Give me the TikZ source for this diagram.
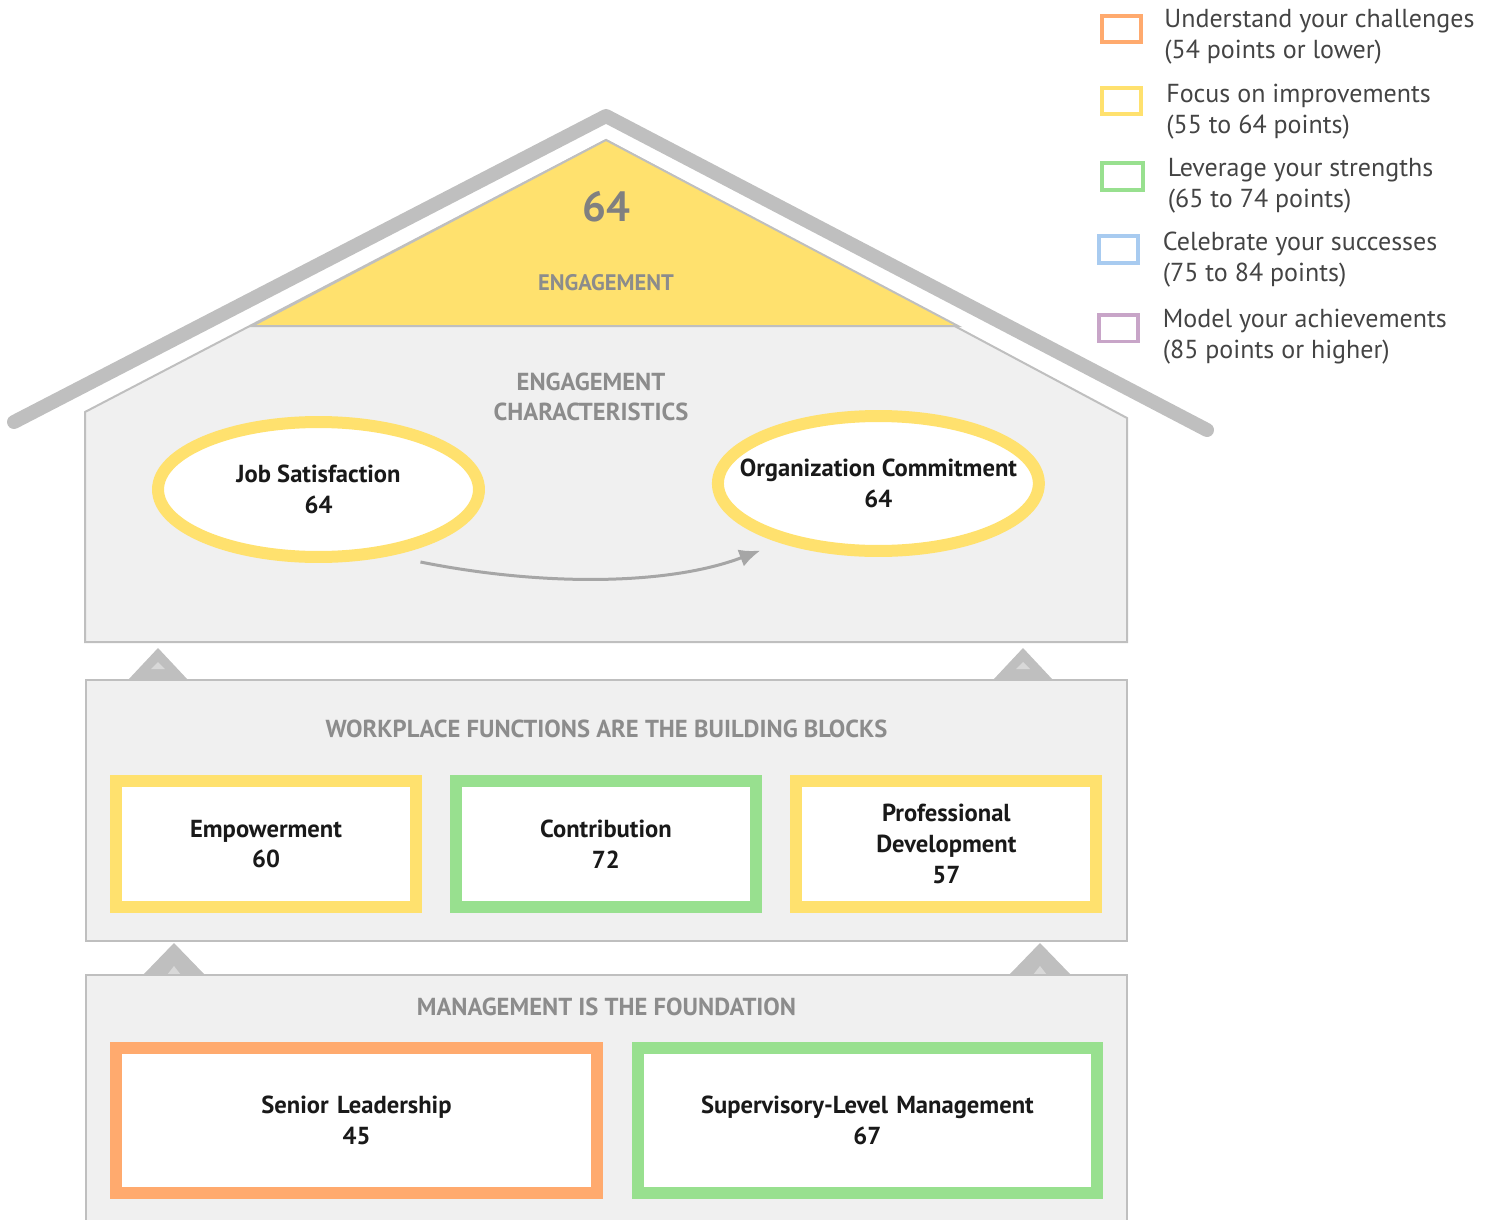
\documentclass[tikz,border=0pt]{standalone}
\usepackage{fontspec}
\setmainfont{PT Sans}
\usepackage{tikz}
\usetikzlibrary{shapes,arrows.meta}
\usetikzlibrary {positioning}
\usetikzlibrary{calc}
\definecolor{color0}{RGB}{255,170,110}
\definecolor{color1}{RGB}{255,225,110}
\definecolor{color2}{RGB}{152,224,143}
\definecolor{color3}{RGB}{168,203,240}
\definecolor{color4}{RGB}{200,165,200}
\definecolor{houseGray}{RGB}{240,240,240}
\definecolor{lineGray}{RGB}{191,191,191}
\definecolor{titleGray}{RGB}{140,140,140}
\definecolor{legendText}{RGB}{68,68,68}
\tikzstyle{scoreBox} = [rectangle, draw, line width=0.24cm, fill=white, text width=5.4cm, align=center, minimum width=6cm, minimum height=2.52cm, inner sep=0pt, font=\bfseries\fontsize{14}{17.5}\selectfont, text=black!90]
\tikzstyle{scoreOval} = [ellipse, draw=color1, line width=0.24cm, fill=white, align=center, minimum width=6.42cm, minimum height=2.7cm, inner xsep=-0.6cm, inner ysep=0pt, font=\bfseries\fontsize{14}{17.5}\selectfont, text=black!90]
\tikzstyle{blockPanel} = [rectangle, draw=lineGray, line width=0.04cm, fill=houseGray, minimum width=20.82cm, inner sep=0pt]
\tikzstyle{blockTitle} = [text=titleGray, font=\bfseries\fontsize{14}{17}\selectfont, align=center]
\tikzstyle{legendBox} = [rectangle, draw, line width=0.08cm, minimum width=0.78cm, minimum height=0.54cm, inner sep=0pt]
\tikzstyle{legendLabel} = [anchor=west, align=left, text=legendText, font=\fontsize{14.8}{17.5}\selectfont, inner sep=0pt]
\tikzstyle{liftTri} = [fill=lineGray]

\begin{document}
\begin{tikzpicture}[x=0.02cm, y=-0.02cm]
	\useasboundingbox (0,0) rectangle (1494,1220);

	% roof and engagement house
	\draw[lineGray, line width=0.28cm, line cap=round, line join=round] (14,422) -- (606,116) -- (1207,430);
	\draw[fill=houseGray, draw=lineGray, line width=0.04cm] (85,642) -- (85,412) -- (606,140) -- (1127,418) -- (1127,642) -- cycle;
	\draw[fill=color1, draw=lineGray, line width=0.04cm] (252,326) -- (606,140) -- (958,326) -- cycle;

	\node[text=black!50, font=\bfseries\fontsize{24}{28}\selectfont](Engagement-Score) at (606,207) {64};
	\node[blockTitle, font=\bfseries\fontsize{12.8}{15}\selectfont]at([yshift=-1.52cm]Engagement-Score.center)(Engagement-Label){ENGAGEMENT};

	\node[blockTitle](Characteristics) at (591,397) {ENGAGEMENT\\CHARACTERISTICS};

	\node[scoreOval](Job-Satisfaction) at (318.5,489.5) {Job Satisfaction\\64};
	\node[scoreOval]at([xshift=11.2cm, yshift=0.12cm]Job-Satisfaction.center)(Org-Commitment){Organization Commitment\\64};

	\draw[black!35, line width=0.06cm, -{Latex[length=0.42cm, width=0.36cm]}] ([xshift=2.04cm, yshift=0.02cm]Job-Satisfaction.south) .. controls (540,586) and (667,586) .. ([xshift=-2.36cm, yshift=-1.34cm]Org-Commitment.center);

	% lifting arrows
	\fill[liftTri] (128,680) -- (158,648) -- (188,680) -- cycle;
	\fill[lineGray!60] (151,669) -- (158,662) -- (165,669) -- cycle;
	\fill[liftTri] (993,680) -- (1023,648) -- (1053,680) -- cycle;
	\fill[lineGray!60] (1016,669) -- (1023,662) -- (1030,669) -- cycle;

	% workplace functions
	\node[blockPanel, minimum height=5.22cm](Functions-Block) at (606.5,810.5) {};
	\node[blockTitle]at([yshift=-1cm]Functions-Block.north)(Functions-Title){WORKPLACE FUNCTIONS ARE THE BUILDING BLOCKS};

	\node[scoreBox, draw=color1](Empowerment) at (266,844) {Empowerment\\60};
	\node[scoreBox, draw=color2]at([xshift=6.8cm]Empowerment.center)(Contribution){Contribution\\72};
	\node[scoreBox, draw=color1]at([xshift=6.81cm]Contribution.center)(Prof-Development){Professional\\Development\\57};

	% lifting arrows
	\fill[liftTri] (143,975) -- (174,943) -- (205,975) -- cycle;
	\fill[lineGray!60] (167,975) -- (174,966) -- (181,975) -- cycle;
	\fill[liftTri] (1009,975) -- (1040,943) -- (1071,975) -- cycle;
	\fill[lineGray!60] (1033,975) -- (1040,966) -- (1047,975) -- cycle;

	% management foundation
	\node[blockPanel, minimum height=5.1cm](Management-Block) at (606.5,1102.5) {};
	\node[blockTitle]at([yshift=-0.66cm]Management-Block.north)(Management-Title){MANAGEMENT IS THE FOUNDATION};

	\node[scoreBox, draw=color0, minimum width=9.62cm, minimum height=2.9cm, text width=9cm](Senior-Leadership) at (356.5,1120.5) {Senior Leadership\\45};
	\node[scoreBox, draw=color2, minimum width=9.18cm, minimum height=2.9cm, text width=8.6cm]at([xshift=10.22cm]Senior-Leadership.center)(Supervisory){Supervisory-Level Management\\67};

	% legend
	\node[legendBox, draw=color0](Key-Challenges) at (1121.5,29) {};
	\node[legendLabel]at([xshift=0.42cm, yshift=-0.16cm]Key-Challenges.east)(Text-Challenges){Understand your challenges\\(54 points or lower)};

	\node[legendBox, draw=color1](Key-Improvements) at (1121.5,101) {};
	\node[legendLabel]at([xshift=0.46cm, yshift=-0.21cm]Key-Improvements.east)(Text-Improvements){Focus on improvements\\(55 to 64 points)};

	\node[legendBox, draw=color2, minimum width=0.82cm](Key-Strengths) at (1122,176.5) {};
	\node[legendLabel]at([xshift=0.46cm, yshift=-0.19cm]Key-Strengths.east)(Text-Strengths){Leverage your strengths\\(65 to 74 points)};

	\node[legendBox, draw=color3](Key-Successes) at (1118,249.5) {};
	\node[legendLabel]at([xshift=0.46cm, yshift=-0.2cm]Key-Successes.east)(Text-Successes){Celebrate your successes\\(75 to 84 points)};

	\node[legendBox, draw=color4](Key-Achievements) at (1118,328) {};
	\node[legendLabel]at([xshift=0.46cm, yshift=-0.18cm]Key-Achievements.east)(Text-Achievements){Model your achievements\\(85 points or higher)};

\end{tikzpicture}
\end{document}
